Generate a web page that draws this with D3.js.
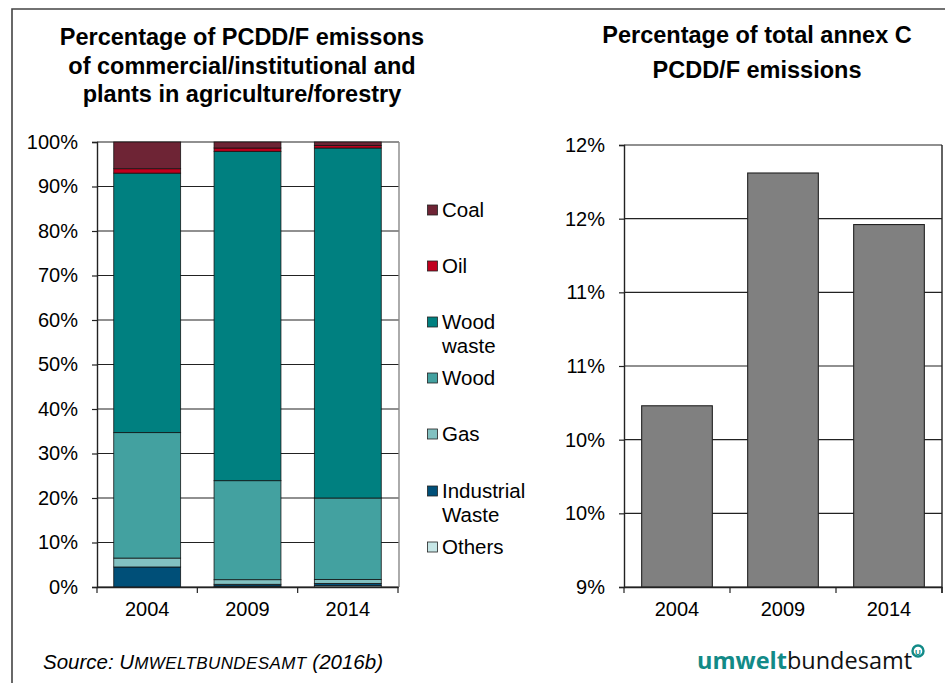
<!DOCTYPE html>
<html><head><meta charset="utf-8">
<script src="https://cdnjs.cloudflare.com/ajax/libs/d3/7.8.5/d3.min.js"></script>
<style>
html,body{margin:0;padding:0;background:#fff;}
svg{display:block;font-family:"Liberation Sans",Arial,sans-serif;}
</style></head>
<body>
<svg id="c" width="945" height="683"></svg>
<script>
// ---- data ----
const years = ["2004", "2009", "2014"];
const seriesNames = ["Others", "Industrial Waste", "Gas", "Wood", "Wood waste", "Oil", "Coal"]; // bottom -> top
const others          = [0.0, 0.2, 0.3];
const industrialWaste = [4.5, 0.4, 0.5];
const gas             = [2.0, 1.05, 0.9];
const wood            = [28.2, 22.25, 18.3];
const woodWaste       = [58.3, 74.0, 78.65];
const oil             = [1.0, 0.75, 0.55];
const coal            = [6.0, 1.35, 0.8];
const leftTicks = [0,10,20,30,40,50,60,70,80,90,100];

const annexShare = [10.23, 11.81, 11.46];
const rightTicks = [9, 9.5, 10, 10.5, 11, 11.5, 12];

const legendOrder = ["Coal", "Oil", "Wood waste", "Wood", "Gas", "Industrial Waste", "Others"];
const legendLines = {"Coal":["Coal"],"Oil":["Oil"],"Wood waste":["Wood","waste"],"Wood":["Wood"],"Gas":["Gas"],"Industrial Waste":["Industrial","Waste"],"Others":["Others"]};
const colors = {"Coal":"#6e2435","Oil":"#c0001e","Wood waste":"#008080","Wood":"#43a1a0","Gas":"#82c1c1","Industrial Waste":"#004f78","Others":"#c6e6e6"};

const seriesValues = {"Others":others,"Industrial Waste":industrialWaste,"Gas":gas,"Wood":wood,"Wood waste":woodWaste,"Oil":oil,"Coal":coal};

const svg = d3.select("#c");

// outer frame
svg.append("path").attr("d","M12,683V9H945").attr("fill","none").attr("stroke","#444").attr("stroke-width",1.6);

// ---- titles ----
function title(lines, cx, ys, size){
  const t = svg.append("text").attr("text-anchor","middle").attr("font-weight","bold").attr("font-size",size).attr("fill","#000");
  lines.forEach((l,i)=> t.append("tspan").attr("x",cx).attr("y",ys[i]).text(l));
}
title(["Percentage of PCDD/F emissons","of commercial/institutional and","plants in agriculture/forestry"], 242, [45,74,102], 23.5);
title(["Percentage of total annex C","PCDD/F emissions"], 757, [43,78], 23.5);

// ---- left stacked chart ----
const xL = d3.scaleBand().domain(years).range([97,398]).paddingInner(1/3).paddingOuter(1/6);
const yL = d3.scaleLinear().domain([0,100]).range([587,142]);

const gL = svg.append("g");
gL.selectAll("line.grid").data(leftTicks).join("line")
  .attr("x1",97).attr("x2",399).attr("y1",d=>yL(d)).attr("y2",d=>yL(d))
  .attr("stroke","#222").attr("stroke-width",1.2);
gL.append("line").attr("x1",399).attr("x2",399).attr("y1",yL(100)).attr("y2",yL(0)).attr("stroke","#888").attr("stroke-width",1.4);

const tableRows = years.map((y,i)=>{ const o={year:y}; seriesNames.forEach(s=>o[s]=seriesValues[s][i]); return o; });
const stack = d3.stack().keys(seriesNames)(tableRows);
gL.selectAll("g.s").data(stack).join("g").attr("fill",d=>colors[d.key])
  .selectAll("rect").data(d=>d).join("rect")
  .attr("x",d=>xL(d.data.year)).attr("width",xL.bandwidth())
  .attr("y",d=>yL(d[1])).attr("height",d=>Math.max(0,yL(d[0])-yL(d[1])))
  .attr("stroke","#111").attr("stroke-width",0.9).attr("stroke-opacity",0.85);

gL.append("g").attr("transform","translate(97,0)")
  .call(d3.axisLeft(yL).tickValues(leftTicks).tickFormat(d=>d+"%").tickSize(5).tickPadding(14));
gL.append("g").attr("transform","translate(0,587)")
  .call(d3.axisBottom(xL).tickSize(0).tickPadding(15));
gL.selectAll("line.bt").data(d3.range(4)).join("line")
  .attr("x1",d=>97+d*xL.step()).attr("x2",d=>97+d*xL.step()).attr("y1",587).attr("y2",593)
  .attr("stroke","#222").attr("stroke-width",1.2);

// ---- right chart ----
const xR = d3.scaleBand().domain(years).range([624,942]).paddingInner(1/3).paddingOuter(1/6);
const yR = d3.scaleLinear().domain([9,12]).range([587,145]);
const gR = svg.append("g");
gR.selectAll("line.grid").data(rightTicks).join("line")
  .attr("x1",624).attr("x2",942).attr("y1",d=>yR(d)).attr("y2",d=>yR(d))
  .attr("stroke","#222").attr("stroke-width",1.2);
gR.append("line").attr("x1",942).attr("x2",942).attr("y1",yR(12)).attr("y2",593).attr("stroke","#222").attr("stroke-width",1.4);
gR.selectAll("rect").data(years).join("rect")
  .attr("x",d=>xR(d)).attr("width",xR.bandwidth())
  .attr("y",(d,i)=>yR(annexShare[i])).attr("height",(d,i)=>yR(9)-yR(annexShare[i]))
  .attr("fill","#808080").attr("stroke","#222").attr("stroke-width",1.1);
gR.append("g").attr("transform","translate(624,0)")
  .call(d3.axisLeft(yR).tickValues(rightTicks).tickFormat(d=>Math.round(d)+"%").tickSize(5).tickPadding(14));
gR.append("g").attr("transform","translate(0,587)")
  .call(d3.axisBottom(xR).tickSize(0).tickPadding(15));
gR.selectAll("line.bt").data(d3.range(4)).join("line")
  .attr("x1",d=>624+d*xR.step()).attr("x2",d=>624+d*xR.step()).attr("y1",587).attr("y2",593)
  .attr("stroke","#222").attr("stroke-width",1.2);

svg.selectAll(".tick text").attr("font-size",20).attr("font-family","'Liberation Sans',Arial,sans-serif").attr("fill","#000");
svg.selectAll(".domain").attr("stroke","#222").attr("stroke-width",1.4);
svg.selectAll(".tick line").attr("stroke","#222").attr("stroke-width",1.2);

// ---- legend ----
const legY = [210, 266, 322, 378, 434, 491, 547];
const lg = svg.append("g");
legendOrder.forEach((k,i)=>{
  lg.append("rect").attr("x",427.5).attr("y",legY[i]-5).attr("width",10).attr("height",10)
    .attr("fill",colors[k]).attr("stroke","#222").attr("stroke-width",0.8);
  const t = lg.append("text").attr("font-size",20.5).attr("fill","#000");
  legendLines[k].forEach((l,j)=> t.append("tspan").attr("x",442).attr("y",legY[i]+7+j*24).text(l));
});

// ---- source ----
const src = svg.append("text").attr("x",43).attr("y",669).attr("font-style","italic").attr("font-size",20.5).attr("fill","#000");
src.append("tspan").text("Source: U");
src.append("tspan").attr("font-size",17).attr("letter-spacing",0.4).text("MWELTBUNDESAMT");
src.append("tspan").text(" (2016b)");

// ---- logo ----
const logo = svg.append("text").attr("x",697).attr("y",669).attr("font-size",23.5).attr("font-family","'Open Sans','Liberation Sans',sans-serif");
logo.append("tspan").attr("font-weight","bold").attr("fill","#128a87").text("umwelt");
logo.append("tspan").attr("fill","#111").text("bundesamt");
svg.append("circle").attr("cx",918).attr("cy",651).attr("r",5.5).attr("fill","none").attr("stroke","#128a87").attr("stroke-width",2.4);
svg.append("text").attr("x",918).attr("y",654.5).attr("text-anchor","middle").attr("font-size",8).attr("font-weight","bold").attr("fill","#128a87").text("U");
</script>
</body></html>
